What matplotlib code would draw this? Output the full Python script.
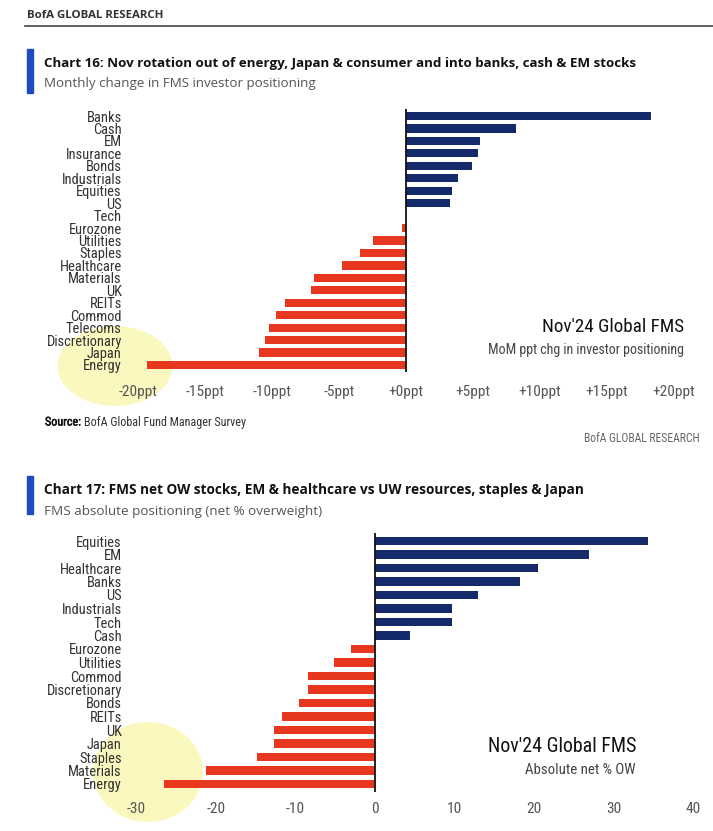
import matplotlib
matplotlib.use("Agg")
import matplotlib.pyplot as plt
from matplotlib import font_manager as fm
from matplotlib.patches import Ellipse, Rectangle
from matplotlib.lines import Line2D
from matplotlib.font_manager import FontProperties
import matplotlib.patheffects as pe

# ---------------- data ----------------
cats16 = ["Banks", "Cash", "EM", "Insurance", "Bonds", "Industrials", "Equities", "US",
          "Tech", "Eurozone", "Utilities", "Staples", "Healthcare", "Materials", "UK",
          "REITs", "Commod", "Telecoms", "Discretionary", "Japan", "Energy"]
vals16 = [18.3, 8.2, 5.5, 5.4, 4.9, 3.9, 3.4, 3.3,
          0.0, -0.3, -2.5, -3.4, -4.8, -6.9, -7.1,
          -9.0, -9.7, -10.2, -10.5, -11.0, -19.3]
ticks16 = [-20, -15, -10, -5, 0, 5, 10, 15, 20]
ticklabels16 = ["-20ppt", "-15ppt", "-10ppt", "-5ppt", "+0ppt", "+5ppt", "+10ppt", "+15ppt", "+20ppt"]

cats17 = ["Equities", "EM", "Healthcare", "Banks", "US", "Industrials", "Tech", "Cash",
          "Eurozone", "Utilities", "Commod", "Discretionary", "Bonds", "REITs", "UK",
          "Japan", "Staples", "Materials", "Energy"]
vals17 = [34.3, 26.9, 20.5, 18.3, 13.0, 9.7, 9.7, 4.4,
          -3.0, -5.2, -8.4, -8.4, -9.6, -11.7, -12.7,
          -12.7, -14.8, -21.2, -26.6]
ticks17 = [-30, -20, -10, 0, 10, 20, 30, 40]
ticklabels17 = ["-30", "-20", "-10", "0", "10", "20", "30", "40"]

# ---------------- style ----------------
NAVY = "#152a6b"
RED = "#e8371f"
ACCENT = "#2149c2"

names = {f.name for f in fm.fontManager.ttflist}


def find_narrow():
    prefs = ["Liberation Sans Narrow", "Roboto Condensed", "Open Sans Condensed",
             "DejaVu Sans Condensed", "Noto Sans Condensed"]
    for p in prefs:
        if p in names:
            return FontProperties(family=p)
    for f in fm.fontManager.ttflist:
        low = (f.name + " " + f.fname).lower()
        if ("narrow" in low or "condensed" in low) and "bold" not in low and "italic" not in low \
                and "oblique" not in low and "light" not in low:
            return FontProperties(fname=f.fname)
    for f in fm.fontManager.ttflist:
        if str(f.stretch) in ("condensed", "semi-condensed", "extra-condensed") \
                and f.style == "normal" and f.weight in (400, "normal"):
            return FontProperties(fname=f.fname)
    return FontProperties(family="Roboto" if "Roboto" in names else "DejaVu Sans")


NARROW_FP = find_narrow()
MAIN = "Open Sans" if "Open Sans" in names else "DejaVu Sans"

W, H = 713, 831
fig = plt.figure(figsize=(W / 100, H / 100), dpi=100)
renderer = fig.canvas.get_renderer()


def fx(x):
    return x / W


def fy(y):
    return 1 - y / H


def fit(t, target):
    for _ in range(3):
        w = t.get_window_extent(renderer=renderer).width
        if w > 0:
            t.set_fontsize(t.get_fontsize() * target / w)
    return t


def ftext(x, y, s, target_w, fp=None, **kw):
    if fp is not None:
        t = fig.text(fx(x), fy(y), s, fontproperties=fp.copy(), **kw)
    else:
        t = fig.text(fx(x), fy(y), s, **kw)
    return fit(t, target_w)


def axes_px(left, top, right, bottom):
    return fig.add_axes([fx(left), fy(bottom), (right - left) / W, (bottom - top) / H])


# sizes for labels / ticks, fitted to reference widths
probe = fig.text(0, 0, "Discretionary", fontproperties=NARROW_FP.copy(), fontsize=10)
LABEL_FS = fit(probe, 76).get_fontsize()
probe.remove()
probe = fig.text(0, 0, "-20ppt", fontproperties=NARROW_FP.copy(), fontsize=10)
TICK_FS = fit(probe, 39).get_fontsize()
probe.remove()

# header
ftext(27, 15, "BofA GLOBAL RESEARCH", 136, fontweight="bold", color="#333333",
      family=MAIN, va="center", ha="left", fontsize=7)
fig.add_artist(Line2D([fx(25), fx(713)], [fy(26), fy(26)], color="#444444", lw=1.2))


def draw_chart(cats, vals, ticks, ticklabels, xlim, zero_px, scale, first_y, last_y,
               title, title_w, subtitle, sub_w, title_y, accent_top, accent_bot,
               ann1, ann1_w, ann2, ann2_w, ann_x, ann_y, tick_pad):
    fig.add_artist(Rectangle((fx(27), fy(accent_bot)), 6 / W, (accent_bot - accent_top) / H,
                             color=ACCENT, transform=fig.transFigure))
    ftext(44, title_y, title, title_w, fontweight="bold", color="#111111",
          family=MAIN, va="center", ha="left", fontsize=10)
    ftext(44, title_y + 21, subtitle, sub_w, color="#555555",
          family=MAIN, va="center", ha="left", fontsize=10)

    n = len(cats)
    step = (last_y - first_y) / (n - 1)
    top = first_y - 0.6 * step
    bot = last_y + 0.6 * step
    left = zero_px + xlim[0] * scale
    right = zero_px + xlim[1] * scale
    ax = axes_px(left, top, right, bot)
    y = list(range(n))
    colors = [NAVY if v >= 0 else RED for v in vals]
    ax.barh(y, vals, height=0.66, color=colors, zorder=2)
    ax.axvline(0, color="#111111", lw=1.3, zorder=3)
    ax.set_xlim(*xlim)
    ax.set_ylim(n - 0.4, -0.6)
    ax.set_yticks(y)
    ax.set_yticklabels(cats, fontproperties=NARROW_FP.copy(), fontsize=LABEL_FS, color="#333333")
    ax.set_xticks(ticks)
    ax.set_xticklabels(ticklabels, fontproperties=NARROW_FP.copy(), fontsize=TICK_FS, color="#555555")
    ax.tick_params(axis="both", length=0)
    ax.tick_params(axis="x", pad=tick_pad)
    ax.tick_params(axis="y", pad=2)
    for s in ax.spines.values():
        s.set_visible(False)
    ax.patch.set_alpha(0)
    ftext(ann_x, ann_y, ann1, ann1_w, fp=NARROW_FP, color="#111111",
          ha="right", va="center", fontsize=13)
    ftext(ann_x, ann_y + 23, ann2, ann2_w, fp=NARROW_FP, color="#444444",
          ha="right", va="center", fontsize=8.5)
    return ax


draw_chart(cats16, vals16, ticks16, ticklabels16, (-21, 21), 406, 13.4, 116, 365,
           "Chart 16: Nov rotation out of energy, Japan & consumer and into banks, cash & EM stocks", 592,
           "Monthly change in FMS investor positioning", 271, 63, 49, 93,
           "Nov'24 Global FMS", 143, "MoM ppt chg in investor positioning", 197, 684, 327, 9)

# source line: bold "Source:" followed by the survey name at the same size
SRC_FS = 7.0
s1 = fig.text(fx(45), fy(422), "Source:", fontproperties=NARROW_FP.copy(), color="#111111",
              ha="left", va="center", fontsize=SRC_FS)
s2 = fig.text(fx(45), fy(422), "BofA Global Fund Manager Survey", fontproperties=NARROW_FP.copy(),
              color="#333333", ha="left", va="center", fontsize=SRC_FS)
for _ in range(3):
    w1 = s1.get_window_extent(renderer=renderer).width
    w2 = s2.get_window_extent(renderer=renderer).width
    k = 200 / (w1 + w2 + 3)
    SRC_FS *= k
    s1.set_fontsize(SRC_FS)
    s2.set_fontsize(SRC_FS)
w1 = s1.get_window_extent(renderer=renderer).width
s2.set_x(fx(45 + w1 + 3))
s1.set_path_effects([pe.withStroke(linewidth=0.35, foreground="#111111")])

ftext(700, 439, "BofA GLOBAL RESEARCH", 115, fp=NARROW_FP, color="#666666",
      ha="right", va="center", fontsize=7.5)

draw_chart(cats17, vals17, ticks17, ticklabels17, (-31.5, 41), 375, 7.95, 541, 784,
           "Chart 17: FMS net OW stocks, EM & healthcare vs UW resources, staples & Japan", 539,
           "FMS absolute positioning (net % overweight)", 278, 490, 476, 514,
           "Nov'24 Global FMS", 150, "Absolute net % OW", 111, 636, 747, 7)

# highlighter marks (behind the text)
for (cx, cy, w, h, ang) in [(115, 366, 115, 80, 0), (148, 772, 110, 100, 0)]:
    e = Ellipse((fx(cx), fy(cy)), w / W, h / H, angle=ang, transform=fig.transFigure,
                facecolor="#f7f27e", alpha=0.5, edgecolor="none", zorder=-1)
    fig.add_artist(e)

fig.savefig("out.png", dpi=100, facecolor="white")
